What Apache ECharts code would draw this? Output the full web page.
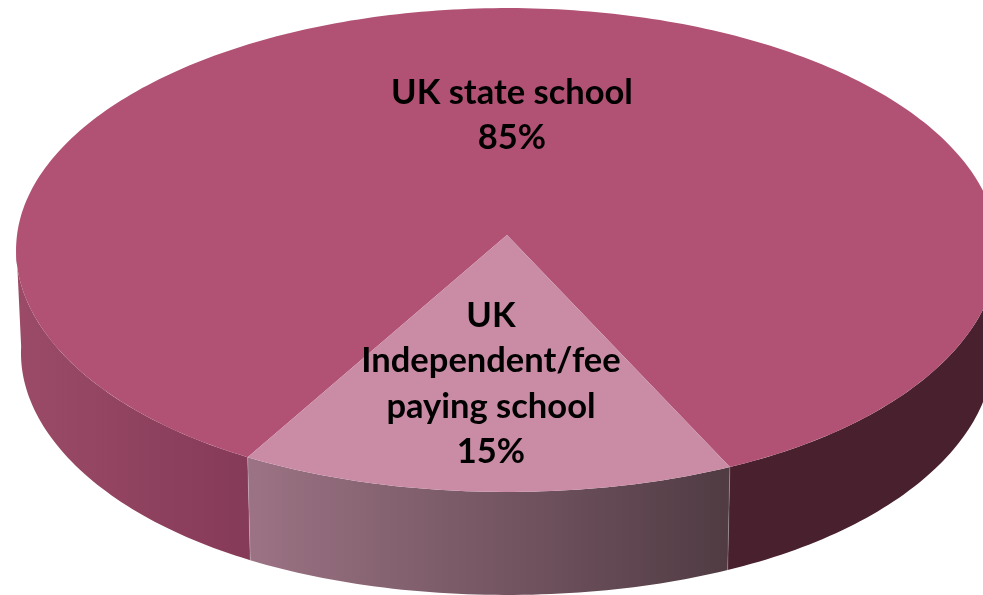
<!DOCTYPE html>
<html>
<head>
<meta charset="utf-8">
<style>html,body{margin:0;padding:0;background:#fff}#c{width:983px;height:595px}</style>
<script src="https://cdn.jsdelivr.net/npm/echarts@6/dist/echarts.min.js"></script>
</head>
<body>
<div id="c"></div>
<script>
const categories = ["UK state school", "UK\nIndependent/fee\npaying school"];
const values = [85, 15];
const topColors = ["#b15274", "#ca8ba5"];
const labelAnchors = [[512, 115.5], [491, 384]];

// projection of the tilted disc
const CX = 507, CY = 235, RX = 490, RY = 241, K = 0.062, FRONT_BULGE = 0.04, DEPTH = 103, BOTTOM_X = 0.99;
const FIRST_ANGLE = 119.3; // degrees, clockwise on screen, 90 = nearest the viewer
const total = values.reduce((a, b) => a + b, 0);

function project(deg, lower) {
  const t = deg * Math.PI / 180, s = Math.sin(t), w = 1 - K * s;
  const x = RX * Math.cos(t) / w * (1 + FRONT_BULGE * Math.pow(Math.max(s, 0), 4)), y = RY * s / w;
  return lower ? [CX + x * BOTTOM_X, CY + y + DEPTH] : [CX + x, CY + y];
}
function arc(a, b, lower) {
  const pts = [], n = Math.max(2, Math.ceil(Math.abs(b - a)));
  for (let i = 0; i <= n; i++) pts.push(project(a + (b - a) * i / n, lower));
  return pts;
}
function grad(c0, c1) {
  return {type: 'linear', x: 0, y: 0, x2: 1, y2: 0, colorStops: [{offset: 0, color: c0}, {offset: 1, color: c1}]};
}
function wall(a, b, c0, c1) {
  return {type: 'polygon', silent: true,
    shape: {points: arc(a, b, false).concat(arc(a, b, true).reverse())},
    style: {fill: grad(c0, c1)}};
}
function seam(deg) {
  const p = project(deg, false), q = project(deg, true);
  return {type: 'line', silent: true, shape: {x1: p[0], y1: p[1], x2: q[0], y2: q[1]},
    style: {stroke: 'rgba(255,255,255,0.22)', lineWidth: 1}};
}

function renderItem(params, api) {
  const i = params.dataIndex;
  let start = FIRST_ANGLE;
  for (let j = 0; j < i; j++) start += values[j] / total * 360;
  const end = start + api.value(0) / total * 360;
  const children = [];
  if (i === 0) {
    children.push(wall(start, 178, '#9b4b67', '#853a57'));
    children.push(wall(2, end - 360, '#49202d', '#49202d'));
  } else {
    children.push(wall(start, end, '#9c7384', '#503b43'));
    children.push(seam(start));
    children.push(seam(end));
  }
  const rim = arc(start, end, false);
  children.push({type: 'polygon', silent: true,
    shape: {points: [[CX, CY]].concat(rim)},
    style: {fill: topColors[i]}});
  children.push({type: 'text', silent: true,
    style: {text: categories[i] + '\n' + api.value(0) + '%',
      x: labelAnchors[i][0], y: labelAnchors[i][1],
      align: 'center', verticalAlign: 'middle',
      fontFamily: 'Lato', fontWeight: 'bold', fontSize: 34.5, lineHeight: 45.3, fill: '#000'}});
  return {type: 'group', children};
}

const chart = echarts.init(document.getElementById('c'), null, {renderer: 'canvas'});
chart.setOption({
  animation: false,
  backgroundColor: '#fff',
  series: [{
    type: 'custom',
    coordinateSystem: 'none',
    renderItem,
    data: values.map(v => [v])
  }]
});
</script>
</body>
</html>
